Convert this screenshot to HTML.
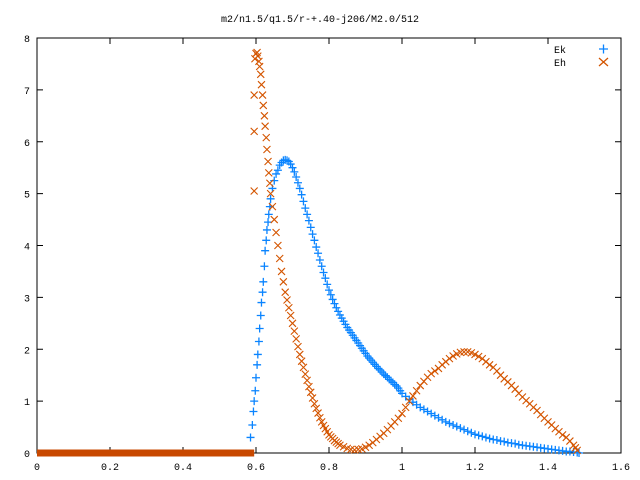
<!DOCTYPE html>
<html><head><meta charset="utf-8"><style>
body{margin:0;background:#fff}
svg{display:block;font-family:"Liberation Mono",monospace;font-size:10px}
</style></head><body>
<svg id="c" width="640" height="480">
<text x="320" y="22" text-anchor="middle">m2/n1.5/q1.5/r-+.40-j206/M2.0/512</text>
<rect x="37" y="38" width="584" height="415" fill="none" stroke="#000"/>
<g id="ticks"></g><g id="series"></g>
<g>
<text x="566" y="53" text-anchor="end">Ek</text>
<text x="566" y="66" text-anchor="end">Eh</text>
<path d="M599 49h9M603.5 44.5v9" stroke="#0a84ff" stroke-width="1.3"/>
<path d="M599 58l9 8M608 58l-9 8" stroke="#d45500" stroke-width="1.3"/>
</g>
</svg>
<script>
const xTicks=[0,0.2,0.4,0.6,0.8,1,1.2,1.4,1.6];
const xTickLabels=["0","0.2","0.4","0.6","0.8","1","1.2","1.4","1.6"];
const yTicks=[0,1,2,3,4,5,6,7,8];
const ekX=[0.585,0.59,0.593,0.595,0.598,0.6,0.603,0.605,0.608,0.61,0.613,0.615,0.618,0.62,0.623,0.625,0.628,0.63,0.633,0.635,0.638,0.64,0.645,0.65,0.655,0.66,0.665,0.67,0.675,0.68,0.685,0.69,0.695,0.7,0.705,0.71,0.715,0.72,0.725,0.73,0.735,0.74,0.745,0.75,0.755,0.76,0.765,0.77,0.775,0.78,0.785,0.79,0.795,0.8,0.805,0.81,0.815,0.82,0.825,0.83,0.835,0.84,0.845,0.85,0.855,0.86,0.865,0.87,0.875,0.88,0.885,0.89,0.895,0.9,0.905,0.91,0.915,0.92,0.925,0.93,0.935,0.94,0.945,0.95,0.955,0.96,0.965,0.97,0.975,0.98,0.985,0.99,0.995,1.0,1.01,1.02,1.03,1.04,1.05,1.06,1.07,1.08,1.09,1.1,1.11,1.12,1.13,1.14,1.15,1.16,1.17,1.18,1.19,1.2,1.21,1.22,1.23,1.24,1.25,1.26,1.27,1.28,1.29,1.3,1.31,1.32,1.33,1.34,1.35,1.36,1.37,1.38,1.39,1.4,1.41,1.42,1.43,1.44,1.45,1.46,1.47,1.48,1.485];
const ekY=[0.3,0.54,0.8,1.0,1.2,1.45,1.7,1.9,2.15,2.4,2.65,2.9,3.1,3.3,3.6,3.9,4.1,4.3,4.45,4.6,4.75,4.9,5.1,5.25,5.38,5.45,5.55,5.6,5.64,5.65,5.64,5.62,5.57,5.5,5.42,5.32,5.21,5.1,4.98,4.85,4.72,4.6,4.48,4.35,4.22,4.1,3.97,3.85,3.72,3.6,3.48,3.37,3.25,3.14,3.05,2.96,2.88,2.8,2.73,2.66,2.6,2.54,2.48,2.42,2.37,2.32,2.27,2.22,2.17,2.12,2.07,2.02,1.97,1.92,1.87,1.83,1.79,1.75,1.71,1.67,1.63,1.6,1.56,1.52,1.49,1.46,1.42,1.39,1.36,1.32,1.29,1.25,1.2,1.15,1.09,1.03,0.98,0.93,0.88,0.84,0.8,0.76,0.72,0.68,0.64,0.6,0.57,0.54,0.51,0.48,0.45,0.42,0.39,0.36,0.34,0.32,0.3,0.28,0.26,0.25,0.23,0.22,0.2,0.19,0.18,0.16,0.15,0.14,0.13,0.12,0.11,0.1,0.09,0.08,0.07,0.06,0.05,0.04,0.03,0.03,0.02,0.01,0.0];
const ehX=[0.595,0.595,0.595,0.597,0.6,0.603,0.605,0.608,0.61,0.613,0.615,0.618,0.62,0.623,0.625,0.628,0.63,0.633,0.635,0.638,0.64,0.645,0.65,0.655,0.66,0.665,0.67,0.675,0.68,0.685,0.69,0.695,0.7,0.705,0.71,0.715,0.72,0.725,0.73,0.735,0.74,0.745,0.75,0.755,0.76,0.765,0.77,0.775,0.78,0.785,0.79,0.795,0.8,0.805,0.81,0.815,0.82,0.825,0.83,0.84,0.85,0.86,0.87,0.88,0.89,0.9,0.91,0.92,0.93,0.94,0.95,0.96,0.97,0.98,0.99,1.0,1.01,1.02,1.03,1.04,1.05,1.06,1.07,1.08,1.09,1.1,1.11,1.12,1.13,1.14,1.15,1.16,1.17,1.18,1.19,1.2,1.21,1.22,1.23,1.24,1.25,1.26,1.27,1.28,1.29,1.3,1.31,1.32,1.33,1.34,1.35,1.36,1.37,1.38,1.39,1.4,1.41,1.42,1.43,1.44,1.45,1.46,1.47,1.475,1.48];
const ehY=[5.05,6.2,6.9,7.6,7.7,7.72,7.65,7.55,7.45,7.3,7.1,6.9,6.7,6.5,6.3,6.08,5.85,5.62,5.4,5.2,5.0,4.75,4.5,4.25,4.0,3.75,3.5,3.3,3.1,2.95,2.8,2.65,2.5,2.35,2.2,2.05,1.9,1.77,1.65,1.52,1.4,1.28,1.17,1.06,0.95,0.86,0.77,0.68,0.6,0.53,0.47,0.41,0.35,0.31,0.28,0.24,0.21,0.18,0.15,0.12,0.09,0.07,0.06,0.07,0.08,0.11,0.15,0.2,0.26,0.32,0.38,0.45,0.52,0.6,0.67,0.76,0.88,1.0,1.1,1.2,1.3,1.38,1.46,1.53,1.58,1.63,1.7,1.76,1.82,1.87,1.91,1.94,1.95,1.95,1.93,1.9,1.86,1.82,1.76,1.7,1.65,1.58,1.5,1.43,1.37,1.3,1.23,1.15,1.08,1.01,0.95,0.88,0.82,0.74,0.67,0.6,0.54,0.47,0.41,0.35,0.3,0.23,0.15,0.1,0.05];
const zeroRange=[0,0.595];
const X=v=>37+v*365, Y=v=>453-v*51.875;
const NS="http://www.w3.org/2000/svg";
const tk=document.getElementById('ticks'), sr=document.getElementById('series');
function mk(tag,attrs,parent){const e=document.createElementNS(NS,tag);for(const k in attrs)e.setAttribute(k,attrs[k]);parent.appendChild(e);return e;}
xTicks.forEach((v,i)=>{
 const t=mk('path',{d:`M${X(v)} 453v-6M${X(v)} 38v6`,stroke:'#000'},tk);
 
 
 const l=mk('text',{x:X(v),y:470,'text-anchor':'middle'},tk);l.textContent=xTickLabels[i];
 
 
});
yTicks.forEach(v=>{
 const t=mk('path',{d:`M37 ${Y(v)}h6M621 ${Y(v)}h-6`,stroke:'#000'},tk);
 
 
 const l=mk('text',{x:30,y:Y(v)+4,'text-anchor':'end'},tk);l.textContent=String(v);
 
 
});
const z=mk('path',{d:`M${X(zeroRange[0])} ${Y(0)}H${X(zeroRange[1])}`,stroke:'#c84800','stroke-width':7},sr);


ekX.forEach((x,i)=>{
 const cx=X(x),cy=Y(ekY[i]);
 const g=mk('path',{d:`M${cx-4} ${cy}h8M${cx} ${cy-4}v8`,stroke:'#0a84ff','stroke-width':1.3},sr);
 
 
});
ehX.forEach((x,i)=>{
 const cx=X(x),cy=Y(ehY[i]);
 const g=mk('path',{d:`M${cx-3.5} ${cy-3.5}l7 7M${cx+3.5} ${cy-3.5}l-7 7`,stroke:'#d45500','stroke-width':1.1},sr);
 
 
});
</script>
</body></html>
